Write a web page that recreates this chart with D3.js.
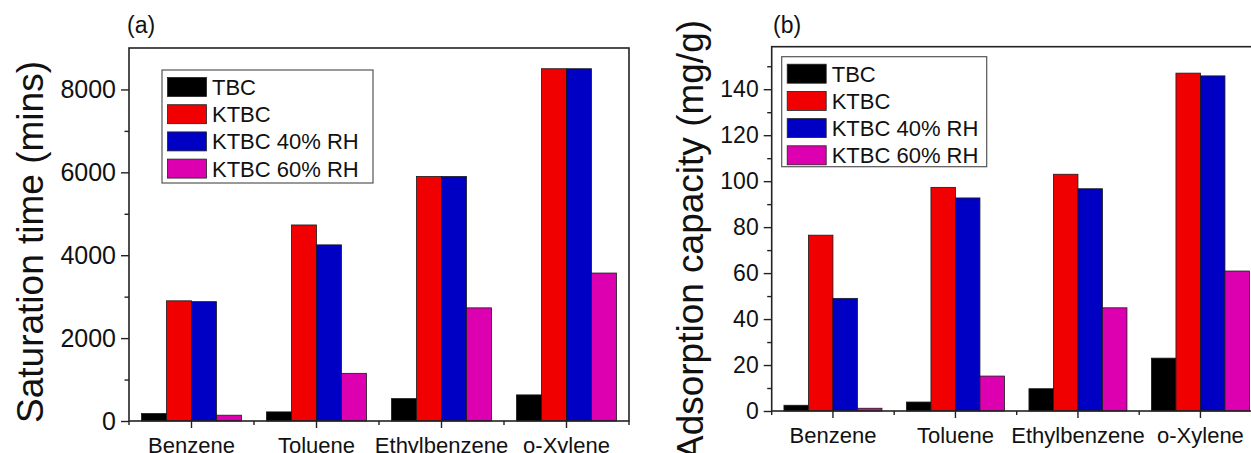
<!DOCTYPE html>
<html>
<head>
<meta charset="utf-8">
<script src="https://cdn.jsdelivr.net/npm/d3@7"></script>
<style>
  html, body { margin: 0; padding: 0; background: #fff; }
  svg { display: block; font-family: "Liberation Sans", Arial, sans-serif; }
</style>
</head>
<body>
<svg id="chart" width="1251" height="453"></svg>
<script>
// ---- data ----
const categories = ["Benzene", "Toluene", "Ethylbenzene", "o-Xylene"];
const seriesNames = ["TBC", "KTBC", "KTBC 40% RH", "KTBC 60% RH"];
const seriesColors = ["#000000", "#f00000", "#0000c4", "#dd00b0"];

// (a) Saturation time (mins)
const satTBC   = [180, 220, 540, 630];
const satKTBC  = [2900, 4730, 5900, 8500];
const satRH40  = [2880, 4250, 5900, 8500];
const satRH60  = [140, 1150, 2730, 3570];

// (b) Adsorption capacity (mg/g)
const adsTBC   = [2.5, 3.9, 9.7, 23];
const adsKTBC  = [76.5, 97.3, 103, 147];
const adsRH40  = [49, 92.7, 96.7, 145.8];
const adsRH60  = [1.2, 15.2, 44.9, 60.9];

const satMajorTicks = [0, 2000, 4000, 6000, 8000];
const satMinorTicks = [1000, 3000, 5000, 7000];
const adsMajorTicks = [0, 20, 40, 60, 80, 100, 120, 140];
const adsMinorTicks = [10, 30, 50, 70, 90, 110, 130, 150];

const svg = d3.select("#chart");

function drawPanel(cfg) {
  const g = svg.append("g");
  const x = d3.scaleBand().domain(categories).range([cfg.left, cfg.right]).paddingInner(0).paddingOuter(0);
  const xs = d3.scaleBand().domain(seriesNames).range([0, x.bandwidth() * 0.8]);
  const y = d3.scaleLinear().domain([0, cfg.yMax]).range([cfg.bottom, cfg.top]);
  const series = seriesNames.map((n, i) => ({ name: n, color: seriesColors[i], values: cfg.values[i] }));

  // bars
  series.forEach(s => {
    g.append("g").selectAll("rect").data(categories).join("rect")
      .attr("x", c => x(c) + x.bandwidth() * 0.1 + xs(s.name))
      .attr("y", (c, i) => y(s.values[i]))
      .attr("width", xs.bandwidth())
      .attr("height", (c, i) => cfg.bottom - y(s.values[i]))
      .attr("fill", s.color)
      .attr("stroke", "#1a1a1a")
      .attr("stroke-width", 0.8);
  });

  // frame
  g.append("rect")
    .attr("x", cfg.left).attr("y", cfg.top)
    .attr("width", cfg.right - cfg.left).attr("height", cfg.bottom - cfg.top)
    .attr("fill", "none").attr("stroke", "#222").attr("stroke-width", 1.6);

  // y axis major
  const yAxis = d3.axisLeft(y).tickValues(cfg.major).tickSize(8).tickPadding(5).tickSizeOuter(0).tickFormat(d3.format("d"));
  const ya = g.append("g").attr("transform", `translate(${cfg.left},0)`).call(yAxis);
  ya.select(".domain").remove();
  ya.selectAll("line").attr("stroke", "#222").attr("stroke-width", 1.4);
  ya.selectAll("text").attr("font-size", cfg.tickFont).attr("fill", "#111")
    .attr("font-family", "Liberation Sans, Arial, sans-serif");
  // y axis minor
  const yMinor = d3.axisLeft(y).tickValues(cfg.minor).tickSize(4.5).tickFormat("");
  const ym = g.append("g").attr("transform", `translate(${cfg.left},0)`).call(yMinor);
  ym.select(".domain").remove();
  ym.selectAll("line").attr("stroke", "#222").attr("stroke-width", 1.4);

  // x axis major at category centers
  const xAxis = d3.axisBottom(x).tickSize(7).tickPadding(9).tickSizeOuter(0);
  const xa = g.append("g").attr("transform", `translate(0,${cfg.bottom})`).call(xAxis);
  xa.select(".domain").remove();
  xa.selectAll("line").attr("stroke", "#222").attr("stroke-width", 1.4);
  xa.selectAll("text").attr("font-size", 22).attr("fill", "#111")
    .attr("font-family", "Liberation Sans, Arial, sans-serif");
  // x minor ticks at band boundaries
  const edges = categories.map(c => x(c)).concat([cfg.right]);
  g.append("g").selectAll("line").data(edges).join("line")
    .attr("x1", d => d).attr("x2", d => d)
    .attr("y1", cfg.bottom).attr("y2", cfg.bottom + 4)
    .attr("stroke", "#222").attr("stroke-width", 1.4);

  // panel label
  g.append("text").attr("x", cfg.labelX).attr("y", 33)
    .attr("font-size", 23).attr("fill", "#111").text(cfg.label);

  // y title
  g.append("text")
    .attr("transform", `translate(${cfg.titleX},${cfg.titleY}) rotate(-90)`)
    .attr("text-anchor", "middle")
    .attr("font-size", 37).attr("fill", "#111")
    .text(cfg.title);

  // legend
  const lg = g.append("g");
  lg.append("rect").attr("x", cfg.legX).attr("y", cfg.legY)
    .attr("width", cfg.legW).attr("height", cfg.legH)
    .attr("fill", "#fff").attr("stroke", "#555").attr("stroke-width", 1.2);
  series.forEach((s, i) => {
    const cy = cfg.legY + 17 + i * 27.2;
    lg.append("rect").attr("x", cfg.legX + 5.5).attr("y", cy - 9.5)
      .attr("width", 39).attr("height", 19)
      .attr("fill", s.color).attr("stroke", "#222").attr("stroke-width", 0.8);
    lg.append("text").attr("x", cfg.legX + 50).attr("y", cy + 8)
      .attr("font-size", 22).attr("fill", "#111").text(s.name);
  });
}

drawPanel({
  left: 129, right: 629, top: 48, bottom: 421, yMax: 9000,
  values: [satTBC, satKTBC, satRH40, satRH60],
  major: satMajorTicks, minor: satMinorTicks, tickFont: 25,
  label: "(a)", labelX: 127,
  title: "Saturation time (mins)", titleX: 43, titleY: 242,
  legX: 162, legY: 70, legW: 211, legH: 113
});

drawPanel({
  left: 771.7, right: 1261.7, top: 46.7, bottom: 411, yMax: 158.5,
  values: [adsTBC, adsKTBC, adsRH40, adsRH60],
  major: adsMajorTicks, minor: adsMinorTicks, tickFont: 23,
  label: "(b)", labelX: 773,
  title: "Adsorption capacity (mg/g)", titleX: 703, titleY: 240,
  legX: 781.7, legY: 56.7, legW: 205, legH: 110
});
</script>
</body>
</html>
